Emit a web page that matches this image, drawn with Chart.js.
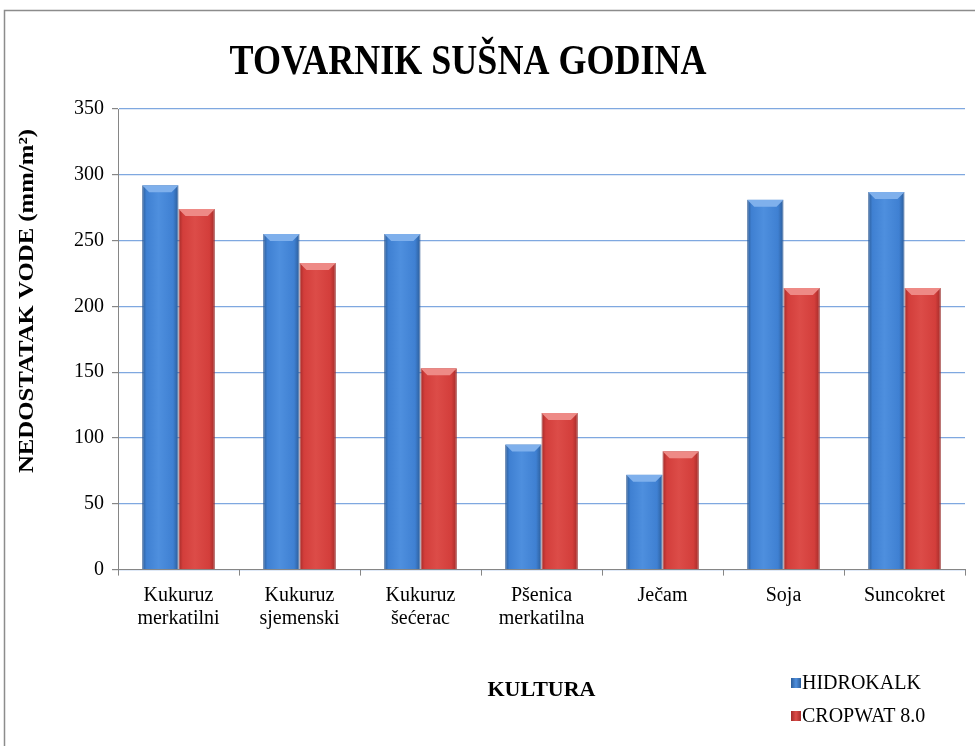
<!DOCTYPE html>
<html>
<head>
<meta charset="utf-8">
<script src="https://cdn.jsdelivr.net/npm/chart.js@4/dist/chart.umd.min.js"></script>
<style>
  html, body { margin: 0; padding: 0; background: #fff; }
  #wrap { width: 975px; height: 746px; position: relative; }
</style>
</head>
<body>
<div id="wrap"><canvas id="deficitChart" width="975" height="746"></canvas></div>
<script>
// data
var cultures = [
  ['Kukuruz', 'merkatilni'],
  ['Kukuruz', 'sjemenski'],
  ['Kukuruz', 'šećerac'],
  ['Pšenica', 'merkatilna'],
  'Ječam',
  'Soja',
  'Suncokret'
];
var hidrokalk = [292, 255, 255, 95, 72, 281, 287];
var cropwat = [274, 233, 153, 119, 90, 214, 214];
var yTicks = [0, 50, 100, 150, 200, 250, 300, 350];

var seriesNames = ['HIDROKALK', 'CROPWAT 8.0'];
// [edge, face, light, bevel, border]
var palette = [
  ['#2b5c98', '#3f80d2', '#4e8fde', '#7fb0ec', '#2a5590'],
  ['#a32b29', '#d33e3b', '#dc4c48', '#ee8a86', '#962826']
];

var serif = '"Liberation Serif", "Times New Roman", serif';

function barGradient(ctx, dsIndex) {
  var chart = ctx.chart;
  var xs = chart.scales.x;
  if (!xs || !chart.chartArea) return palette[dsIndex][1];
  var cat = (xs.right - xs.left) / cultures.length;
  var barW = cat * 0.6 / 2;
  var center = xs.getPixelForValue(ctx.dataIndex);
  var left = center - barW + dsIndex * barW;
  var g = chart.ctx.createLinearGradient(left, 0, left + barW, 0);
  var c = palette[dsIndex];
  g.addColorStop(0, c[0]);
  g.addColorStop(0.12, c[1]);
  g.addColorStop(0.45, c[2]);
  g.addColorStop(0.85, c[1]);
  g.addColorStop(1, c[0]);
  return g;
}

var frameAndText = {
  id: 'frameAndText',
  beforeDraw: function (chart) {
    var c = chart.ctx;
    c.save();
    c.fillStyle = '#fff';
    c.fillRect(0, 0, chart.width, chart.height);
    c.strokeStyle = '#8c8c8c';
    c.lineWidth = 1.5;
    c.beginPath();
    c.moveTo(4.5, chart.height);
    c.lineTo(4.5, 10.5);
    c.lineTo(chart.width, 10.5);
    c.stroke();
    c.restore();
  },
  afterDatasetsDraw: function (chart) {
    var c = chart.ctx;
    chart.data.datasets.forEach(function (ds, di) {
      var meta = chart.getDatasetMeta(di);
      meta.data.forEach(function (bar) {
        var p = bar.getProps(['x', 'y', 'base', 'width'], true);
        var l = p.x - p.width / 2, r = p.x + p.width / 2, t = p.y;
        var b = Math.min(7, (p.base - p.y) / 3);
        c.save();
        c.fillStyle = palette[di][3];
        c.beginPath();
        c.moveTo(l, t);
        c.lineTo(r, t);
        c.lineTo(r - b, t + b);
        c.lineTo(l + b, t + b);
        c.closePath();
        c.fill();
        c.restore();
      });
    });
  },
  afterDraw: function (chart) {
    var c = chart.ctx;
    c.save();
    c.fillStyle = '#000';
    // main title
    c.font = 'bold 36px ' + serif;
    c.textAlign = 'center';
    c.textBaseline = 'alphabetic';
    c.translate(468, 74);
    c.scale(1, 1.18);
    c.fillText('TOVARNIK SUŠNA GODINA', 0, 0);
    c.restore();

    // y axis title
    c.save();
    c.fillStyle = '#000';
    c.font = 'bold 21px ' + serif;
    c.textAlign = 'center';
    c.textBaseline = 'middle';
    c.translate(28, 301);
    c.rotate(-Math.PI / 2);
    c.scale(1.18, 1);
    c.fillText('NEDOSTATAK VODE (mm/m²)', 0, 0);
    c.restore();

    // legend
    var lx = 791, ly = [683, 716];
    seriesNames.forEach(function (name, i) {
      c.save();
      var g = c.createLinearGradient(lx, 0, lx + 10, 0);
      g.addColorStop(0, palette[i][0]);
      g.addColorStop(0.5, palette[i][2]);
      g.addColorStop(1, palette[i][0]);
      c.fillStyle = g;
      c.fillRect(lx, ly[i] - 5, 10, 10);
      c.fillStyle = '#000';
      c.font = '20px ' + serif;
      c.textAlign = 'left';
      c.textBaseline = 'middle';
      c.fillText(name, lx + 11, ly[i] + 1);
      c.restore();
    });
  }
};

var ctx = document.getElementById('deficitChart').getContext('2d');
var chart = new Chart(ctx, {
  type: 'bar',
  data: {
    labels: cultures,
    datasets: [
      {
        label: seriesNames[0],
        data: hidrokalk,
        backgroundColor: function (context) { return barGradient(context, 0); },
        borderColor: palette[0][4],
        borderWidth: 1,
        categoryPercentage: 0.6,
        barPercentage: 1.0
      },
      {
        label: seriesNames[1],
        data: cropwat,
        backgroundColor: function (context) { return barGradient(context, 1); },
        borderColor: palette[1][4],
        borderWidth: 1,
        categoryPercentage: 0.6,
        barPercentage: 1.0
      }
    ]
  },
  plugins: [frameAndText],
  options: {
    responsive: false,
    animation: false,
    layout: {
      padding: { left: 66, right: 10, top: 109, bottom: 38 }
    },
    plugins: {
      legend: { display: false },
      title: { display: false },
      tooltip: { enabled: false }
    },
    scales: {
      y: {
        min: 0,
        max: 350,
        afterBuildTicks: function (axis) {
          axis.ticks = yTicks.map(function (v) { return { value: v }; });
        },
        grid: {
          color: '#7fa8e0',
          lineWidth: 1.2,
          tickColor: '#868686',
          tickLength: 6
        },
        border: { color: '#868686', width: 1 },
        ticks: {
          color: '#000',
          padding: 8,
          font: { family: serif, size: 20 }
        }
      },
      x: {
        grid: {
          drawOnChartArea: false,
          tickColor: '#868686',
          tickLength: 6
        },
        border: { color: '#868686', width: 1 },
        ticks: {
          color: '#000',
          padding: 9,
          autoSkip: false,
          maxRotation: 0,
          font: { family: serif, size: 20, lineHeight: 1.15 }
        },
        title: {
          display: true,
          text: 'KULTURA',
          color: '#000',
          font: { family: serif, size: 22, weight: 'bold' },
          padding: { top: 38, bottom: 4 }
        }
      }
    }
  }
});
</script>
</body>
</html>
